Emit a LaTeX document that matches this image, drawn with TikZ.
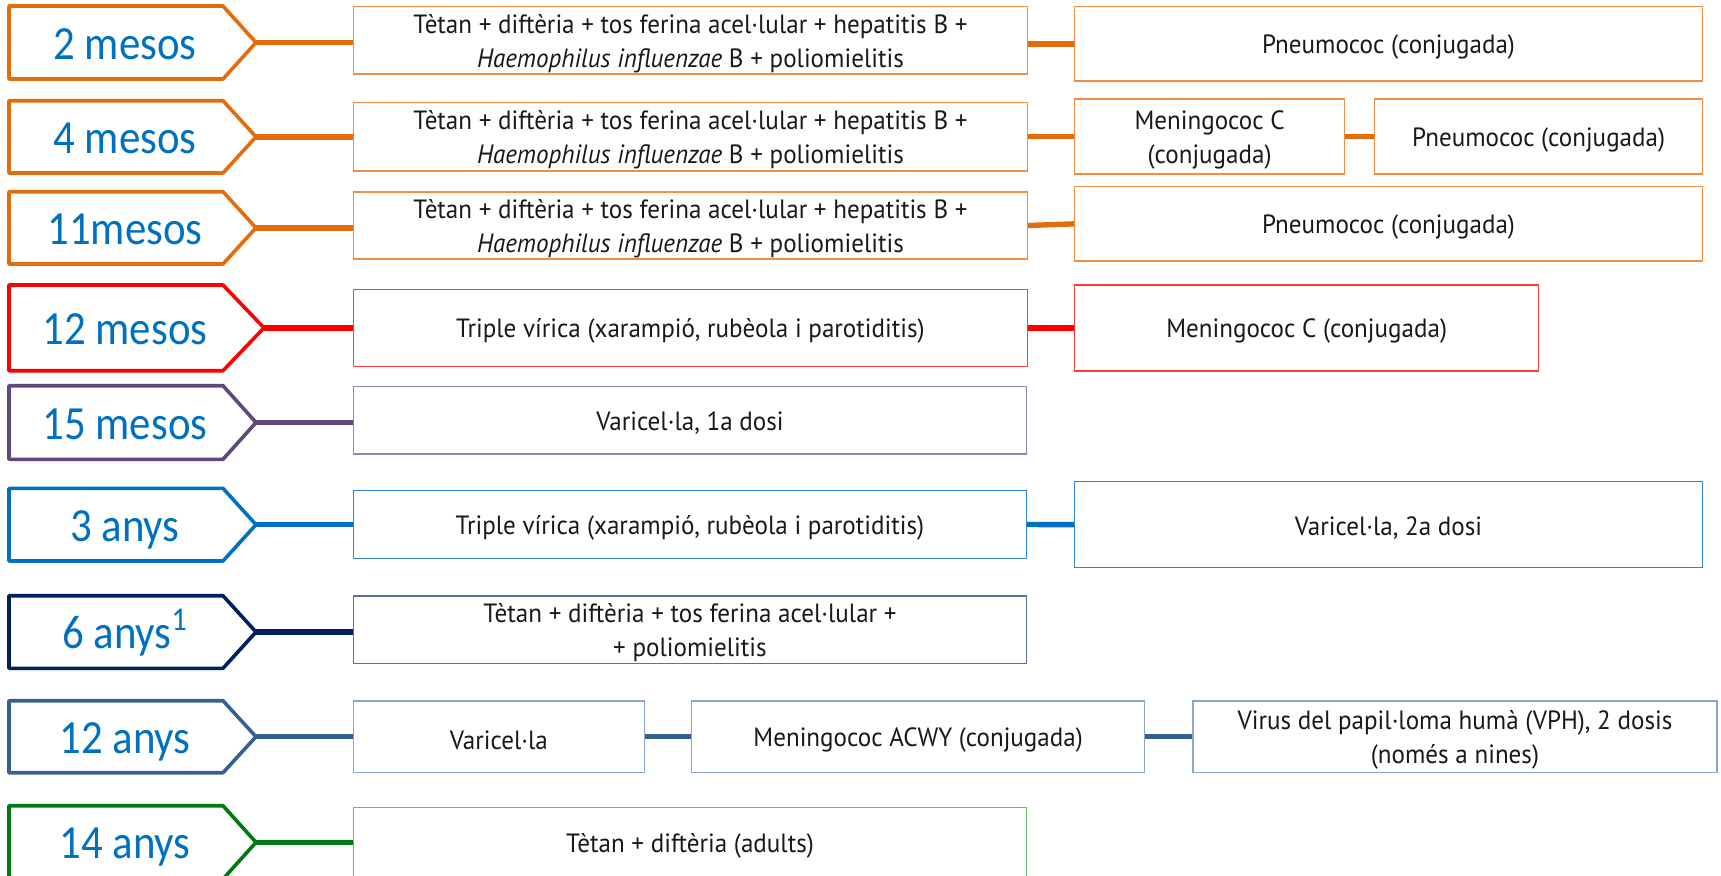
\documentclass[tikz,border=0pt]{standalone}
\usepackage{fontspec}
\setmainfont{PT Sans}[FakeStretch=0.95]
\newfontfamily\labfont{Carlito}[FakeStretch=0.9]
\usetikzlibrary{calc}
\definecolor{cOr}{HTML}{E46C0A}
\definecolor{cOrB}{HTML}{F38D45}
\definecolor{cRed}{HTML}{FF0000}
\definecolor{cRedB}{HTML}{FF3B3B}
\definecolor{cPur}{HTML}{5F497A}
\definecolor{cPurB}{HTML}{9583B2}
\definecolor{cBlu}{HTML}{0070C0}
\definecolor{cBluB}{HTML}{2E86D0}
\definecolor{cNav}{HTML}{002060}
\definecolor{cNavB}{HTML}{5B6FA0}
\definecolor{cStl}{HTML}{366092}
\definecolor{cStlB}{HTML}{8AA6CC}
\definecolor{cGrn}{HTML}{007A10}
\definecolor{cGrnB}{HTML}{6CBB6C}
\definecolor{labblue}{HTML}{0070C0}
\tikzset{
  tagline/.style={line width=1.8pt, line join=round, fill=white},
  labtext/.style={font={\labfont\fontsize{23.8}{26}\selectfont}, text=labblue, inner sep=0pt},
  boxst/.style={rectangle, line width=0.65pt, fill=white, inner sep=0pt},
  boxtext/.style={inner sep=0pt, align=center, yshift=-1.6pt,
     font={\fontsize{13.2}{17}\selectfont}, text=black!90},
  conn/.style={line width=2.7pt, line cap=butt}
}
% #1 name, #2 top, #3 bottom, #4 tip x, #5 colour, #6 text
\newcommand\agetag[6]{%
  \draw[tagline,draw=#5] (9,#2) -- (223,#2) -- (#4,{(#2+#3)/2}) -- (223,#3) -- (9,#3) -- cycle;
  \coordinate (#1) at (#4,{(#2+#3)/2});
  \node[labtext,anchor=base] (#1-t) at (125,{(#2+#3)/2+16.5}) {#6};
}
% #1 name, #2 left, #3 right, #4 top, #5 bottom, #6 colour, #7 text
\newcommand\vacbox[7]{%
  \node[boxst,draw=#6,minimum width={(#3-#2)*0.5pt},minimum height={(#5-#4)*0.5pt}]
    (#1) at ({(#2+#3)/2},{(#4+#5)/2}) {};
  \node[boxtext] (#1-t) at (#1.center) {#7};
}
\newcommand\dtpa{T\`etan + dift\`eria + tos ferina acel·lular + hepatitis B +\\\textit{Haemophilus influenzae} B + poliomielitis}
\begin{document}
\begin{tikzpicture}[x=0.5pt,y=-0.5pt]
\useasboundingbox (0,0) rectangle (1721,875);
\clip (0,0) rectangle (1721,875);
\fill[white] (0,0) rectangle (1721,875);

% Row 1: 2 mesos
\agetag{t1}{6}{79}{256}{cOr}{2 mesos}
\vacbox{r1a}{353.4}{1027.5}{6.7}{74}{cOrB}{\dtpa}
\vacbox{r1b}{1074.5}{1702.5}{6.7}{81}{cOrB}{Pneumococ (conjugada)}
\draw[conn,cOr] (t1) -- (t1 -| r1a.west);
\draw[conn,cOr] (r1a.east |- r1b.west) -- (r1b.west);

% Row 2: 4 mesos
\agetag{t2}{100.7}{173}{256}{cOr}{4 mesos}
\vacbox{r2a}{353.4}{1027.5}{102.7}{171}{cOrB}{\dtpa}
\vacbox{r2b}{1074.5}{1344.8}{99}{174}{cOrB}{Meningococ C\\(conjugada)}
\vacbox{r2c}{1374.7}{1702.5}{99}{174}{cOrB}{Pneumococ (conjugada)}
\draw[conn,cOr] (t2) -- (t2 -| r2a.west);
\draw[conn,cOr] (r2a.east |- r2b.west) -- (r2b.west);
\draw[conn,cOr] (r2b.east) -- (r2c.west);

% Row 3: 11 mesos
\agetag{t3}{191.7}{264}{256}{cOr}{11mesos}
\vacbox{r3a}{353.4}{1027.5}{192}{259}{cOrB}{\dtpa}
\vacbox{r3b}{1074.5}{1702.5}{186.7}{261}{cOrB}{Pneumococ (conjugada)}
\draw[conn,cOr] (t3) -- (t3 -| r3a.west);
\draw[conn,cOr] (r3a.east) -- (r3b.west);

% Row 4: 12 mesos
\agetag{t4}{285}{370.7}{264}{cRed}{12 mesos}
\vacbox{r4a}{353.4}{1027.5}{289.3}{366.7}{cRedB}{Triple v\'irica (xarampi\'o, rub\`eola i parotiditis)}
\vacbox{r4b}{1074.5}{1538.8}{285}{371}{cRedB}{Meningococ C (conjugada)}
\draw[conn,cRed] (t4) -- (t4 -| r4a.west);
\draw[conn,cRed] (r4a.east) -- (r4b.west);

% Row 5: 15 mesos
\agetag{t5}{385.7}{459.3}{256}{cPur}{15 mesos}
\vacbox{r5a}{353.4}{1026.5}{386.3}{454}{cPurB}{Varicel·la, 1a dosi}
\draw[conn,cPur] (t5) -- (t5 -| r5a.west);

% Row 6: 3 anys
\agetag{t6}{488.3}{561}{256}{cBlu}{3 anys}
\vacbox{r6a}{353.4}{1026.5}{490.7}{558.3}{cBluB}{Triple v\'irica (xarampi\'o, rub\`eola i parotiditis)}
\vacbox{r6b}{1074.5}{1702.5}{481.8}{567.5}{cBluB}{Varicel·la, 2a dosi}
\draw[conn,cBlu] (t6) -- (t6 -| r6a.west);
\draw[conn,cBlu] (r6a.east) -- (r6b.west);

% Row 7: 6 anys
\agetag{t7}{595.7}{668.3}{256}{cNav}{6 anys\textsuperscript{1}}
\vacbox{r7a}{353.4}{1026.5}{596}{663.7}{cNavB}{T\`etan + dift\`eria + tos ferina acel·lular +\\+ poliomielitis}
\draw[conn,cNav] (t7) -- (t7 -| r7a.west);

% Row 8: 12 anys
\agetag{t8}{700.7}{772.7}{256}{cStl}{12 anys}
\vacbox{r8a}{353.4}{644.3}{701}{772.3}{cStlB}{Varicel·la}
\vacbox{r8b}{691.5}{1144.8}{701}{772.3}{cStlB}{Meningococ ACWY (conjugada)}
\vacbox{r8c}{1193}{1717}{701}{772.3}{cStlB}{Virus del papil·loma hum\`a (VPH), 2 dosis\\(nom\'es a nines)}
\draw[conn,cStl] (t8) -- (t8 -| r8a.west);
\draw[conn,cStl] (r8a.east) -- (r8b.west);
\draw[conn,cStl] (r8b.east) -- (r8c.west);

% Row 9: 14 anys
\agetag{t9}{805.7}{879}{256}{cGrn}{14 anys}
\vacbox{r9a}{353.4}{1026.5}{807.7}{878}{cGrnB}{T\`etan + dift\`eria (adults)}
\draw[conn,cGrn] (t9) -- (t9 -| r9a.west);
\end{tikzpicture}
\end{document}
